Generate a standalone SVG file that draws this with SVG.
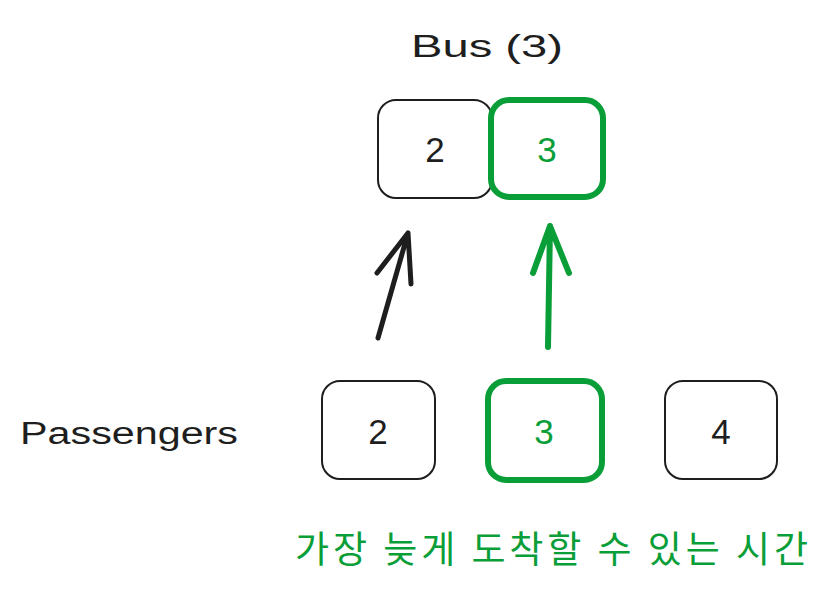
<svg xmlns="http://www.w3.org/2000/svg" width="830" height="597" viewBox="0 0 830 597">
<style>
.hand{font-family:"Liberation Sans","Noto Sans",sans-serif;}
.lbl{font-size:31px;fill:#1e1e1e;}
.num{font-size:35px;text-anchor:middle;dominant-baseline:central;}
.box{fill:#fff;stroke:#1e1e1e;stroke-width:2;}
.gbox{fill:#fff;stroke:#099e38;stroke-width:6;}
.k{fill:#1e1e1e}
.g{fill:#099e38}
.arrow{fill:none;stroke-linecap:round;stroke-linejoin:round;}
</style>
<rect width="830" height="597" fill="#fff"/>
<text class="hand lbl" x="411" y="57" textLength="152" lengthAdjust="spacingAndGlyphs">Bus (3)</text>
<text class="hand lbl" x="20" y="444" textLength="218" lengthAdjust="spacingAndGlyphs">Passengers</text>
<g id="bus-2">
<rect class="box" x="378" y="100" width="114" height="98" rx="18"/>
<text class="hand num k" x="435" y="149">2</text>
</g>
<g id="bus-3">
<rect class="gbox" x="491" y="100" width="112" height="97" rx="18"/>
<text class="hand num g" x="547" y="149">3</text>
</g>
<g id="pass-2">
<rect class="box" x="322" y="381" width="113" height="98" rx="18"/>
<text class="hand num k" x="378" y="431">2</text>
</g>
<g id="pass-3">
<rect class="gbox" x="488" y="381" width="114" height="99" rx="18"/>
<text class="hand num g" x="544" y="431">3</text>
</g>
<g id="pass-4">
<rect class="box" x="665" y="381" width="112" height="98" rx="18"/>
<text class="hand num k" x="721" y="431">4</text>
</g>
<g id="connectors">
<path class="arrow" d="M378 338 L408 233 M377 273 L408 233 L411 284" stroke="#1e1e1e" stroke-width="5"/>
<path class="arrow" d="M548 347 L550 226 M533 273 L550 226 L569 273" stroke="#099e38" stroke-width="6"/>
</g>
<text x="295" y="563" font-family="'Noto Sans CJK KR',sans-serif" font-size="37" fill="#099e38" textLength="513" lengthAdjust="spacing">가장 늦게 도착할 수 있는 시간</text>
</svg>
